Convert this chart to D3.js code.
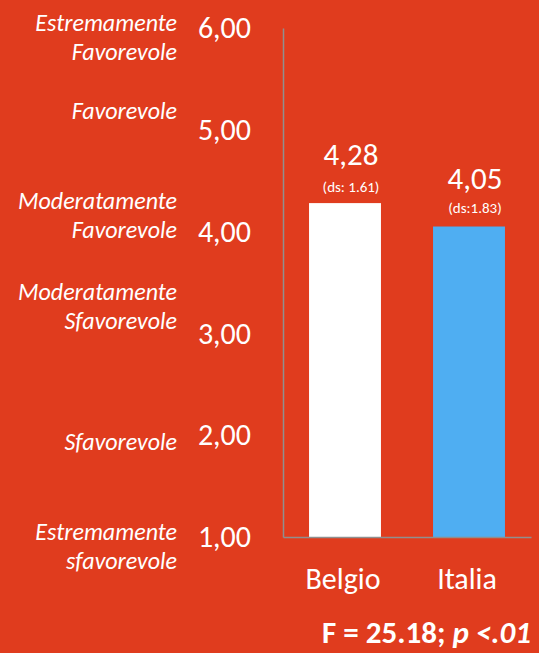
<!DOCTYPE html>
<html>
<head>
<meta charset="utf-8">
<script src="https://cdn.jsdelivr.net/npm/d3@7"></script>
<style>
  html, body { margin: 0; padding: 0; background: #e03c1e; }
  svg { display: block; }
  text { font-family: Carlito, Calibri, Lato, sans-serif; fill: #fff; }
</style>
</head>
<body>
<div id="chart"></div>
<script>
const width = 539;
const height = 653;

const countries = ['Belgio', 'Italia'];
const means = [4.28, 4.05];
const sdLabels = ['(ds: 1.61)', '(ds:1.83)'];
const ticks = [1, 2, 3, 4, 5, 6];
const scaleLabels = [
  ['Estremamente', 'sfavorevole'],
  ['Sfavorevole'],
  ['Moderatamente', 'Sfavorevole'],
  ['Moderatamente', 'Favorevole'],
  ['Favorevole'],
  ['Estremamente', 'Favorevole']
];
const statText = 'F = 25.18; ';
const statP = 'p <.01';

// text boxes in the original are not aligned the same way to each tick
const labelShift = [3, 15, -33, -23, -11, 3];
const barColors = ['#ffffff', '#4faef2'];

const svg = d3.select('#chart').append('svg')
  .attr('width', width)
  .attr('height', height);

const y = d3.scaleLinear().domain([1, 6]).range([537, 28]);
const x = d3.scaleBand().domain(countries).range([283, 531])
  .paddingInner(0.42).paddingOuter(0.21);

// y axis
const yAxis = svg.append('g')
  .attr('transform', 'translate(283,0)')
  .call(d3.axisLeft(y).tickValues(ticks).tickSize(0).tickPadding(32)
    .tickFormat(d => d.toFixed(2).replace('.', ',')));
yAxis.select('.domain').attr('stroke', '#8f8f8f').attr('stroke-width', 1.5);
yAxis.selectAll('text')
  .attr('font-size', '30px')
  .attr('fill', '#fff')
  .attr('dy', '0.32em');

// bars
svg.selectAll('rect.bar').data(countries).enter().append('rect')
  .attr('class', 'bar')
  .attr('x', d => x(d))
  .attr('width', x.bandwidth())
  .attr('y', (d, i) => y(means[i]))
  .attr('height', (d, i) => y(1) - y(means[i]))
  .attr('fill', (d, i) => barColors[i]);

// x axis
const xAxis = svg.append('g')
  .attr('transform', `translate(0,${y(1)})`)
  .call(d3.axisBottom(x).tickSize(0).tickPadding(31).tickSizeOuter(0));
xAxis.select('.domain').attr('stroke', '#8f8f8f').attr('stroke-width', 1.5);
xAxis.selectAll('text').attr('font-size', '30px').attr('fill', '#fff')
  .attr('dx', '-2');

// value labels
const vl = svg.selectAll('g.vl').data(countries).enter().append('g')
  .attr('class', 'vl')
  .attr('transform', (d, i) => `translate(${x(d) + x.bandwidth() / 2 + 6},${y(means[i])})`)
  .attr('text-anchor', 'middle');
vl.append('text')
  .attr('y', -38)
  .attr('font-size', '31px')
  .text((d, i) => means[i].toFixed(2).replace('.', ','));
vl.append('text')
  .attr('y', (d, i) => i === 0 ? -11 : -14)
  .attr('font-size', '15px')
  .text((d, i) => sdLabels[i]);

// italic scale labels
const sl = svg.selectAll('text.sl').data(ticks).enter().append('text')
  .attr('class', 'sl')
  .attr('text-anchor', 'end')
  .attr('font-style', 'italic')
  .attr('font-size', '24px')
  .attr('y', (d, i) => y(d) + labelShift[i]);
sl.selectAll('tspan').data((d, i) => scaleLabels[i]).enter().append('tspan')
  .attr('x', 177)
  .attr('dy', (d, j) => j === 0 ? 0 : 29)
  .text(d => d);

// statistic
const st = svg.append('text')
  .attr('x', 531)
  .attr('y', 643)
  .attr('text-anchor', 'end')
  .attr('font-size', '31px')
  .attr('font-weight', 'bold');
st.append('tspan').text(statText);
st.append('tspan').attr('font-style', 'italic').text(statP);
</script>
</body>
</html>
